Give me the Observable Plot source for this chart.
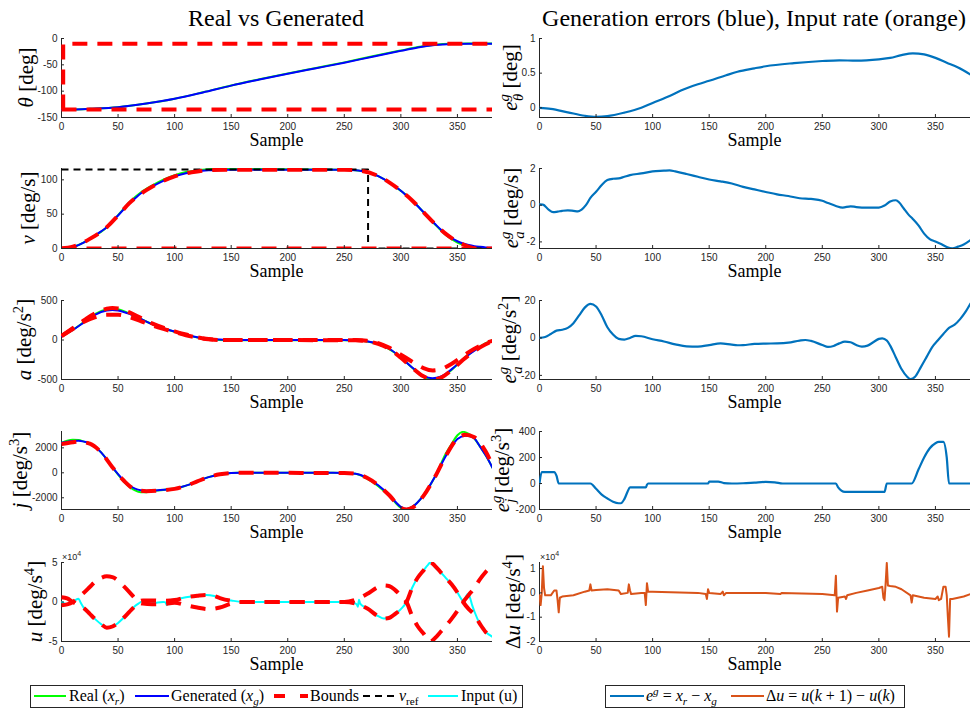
<!DOCTYPE html>
<html>
<head>
<meta charset="utf-8">
<script src="https://cdn.jsdelivr.net/npm/d3@7"></script>
<script src="https://cdn.jsdelivr.net/npm/@observablehq/plot@0.6"></script>
<style>
  body { margin: 0; background: #fff; }
  #fig { position: relative; width: 971px; height: 710px; overflow: hidden; background: #fff; }
  #fig svg { max-width: none; }
</style>
</head>
<body>
<div id="fig"></div>
<script>
// ---------- shared axis settings ----------
const X_MAX = 381;
const X_TICKS = [0, 50, 100, 150, 200, 250, 300, 350];

// ---------- row 1: angle θ [deg] ----------
const thetaReal = [[0,-135],[10,-134.8],[25,-133.6],[50,-130.6],[75,-123.6],[100,-114.4],[125,-102.2],[150,-89.1],[175,-77.5],[200,-66.4],[225,-55.9],[250,-45.3],[275,-33.8],[300,-22.8],[315,-16.3],[330,-11.7],[345,-9.8],[360,-9.4],[381,-9.5]];
const thetaGen  = [[0,-135],[10,-134.8],[25,-133.5],[50,-130.5],[75,-123.5],[100,-114.5],[125,-102.5],[150,-89.5],[175,-78],[200,-67],[225,-56.5],[250,-46],[275,-34.5],[300,-23.5],[315,-17],[330,-12.5],[345,-10.5],[360,-10],[381,-10]];
const thetaUpper = [[1.5,-135],[1.5,-10],[381,-10]];
const thetaLower = [[0,-135],[381,-135]];
const eTheta = [[0,0],[10,-0.015],[25,-0.065],[40,-0.115],[50,-0.13],[60,-0.12],[75,-0.07],[90,0],[100,0.07],[115,0.17],[125,0.25],[140,0.34],[150,0.39],[165,0.47],[175,0.52],[190,0.57],[200,0.6],[225,0.645],[250,0.675],[265,0.685],[280,0.68],[300,0.7],[310,0.72],[320,0.76],[330,0.785],[340,0.77],[350,0.72],[360,0.65],[370,0.58],[381,0.48]];

// ---------- row 2: velocity v [deg/s] ----------
const vReal = [[0,0],[10,2.1],[25,13.7],[40,30.8],[50,48.7],[60,67.4],[70,81.5],[80,91.6],[90,100.2],[100,106.8],[110,111.4],[120,114.1],[130,115.5],[140,116],[150,116],[200,115.3],[250,114.7],[265,113],[280,105.4],[290,95.9],[300,83.9],[310,70.2],[320,52.8],[330,35.3],[340,19.4],[350,8.6],[360,2.7],[370,0.3],[381,0]];
const vGen = [[0,0],[5,0.6],[10,2.4],[15,5],[20,9],[25,14],[30,19.5],[35,25],[40,31],[45,39],[50,48],[55,57],[60,66],[65,73],[70,80],[75,85],[80,90],[90,98.5],[100,105],[110,109.5],[120,112.3],[130,113.8],[140,114.4],[150,114.6],[200,114.6],[250,114.5],[260,114],[265,113],[270,111],[275,108.5],[280,105.5],[285,101],[290,96],[295,90],[300,84],[305,77],[310,70],[315,61.5],[320,53],[325,44],[330,36],[335,28],[340,21],[345,15],[350,10.6],[355,7.3],[360,5],[365,3.4],[370,2.4],[375,1.6],[381,1]];
const vUpper = [[0,0],[10,2.5],[25,14],[40,31],[50,48],[60,66],[75,85],[90,98.5],[100,105],[115,111],[130,114],[150,114.6],[250,114.5],[265,113],[280,105.5],[290,96],[300,84],[310,70],[320,53],[330,36],[340,21],[350,10],[358,4],[365,0]];
const vLower = [[0,0],[381,0]];
const vRef = [[0,115],[271,115],[271,0],[381,0]];
const eV = [[0,0.04],[3,0.03],[8,-0.24],[12,-0.38],[16,-0.35],[20,-0.31],[25,-0.28],[30,-0.31],[34,-0.34],[37,-0.25],[41,0],[45,0.4],[50,0.73],[55,1.1],[60,1.37],[65,1.44],[70,1.46],[75,1.55],[80,1.64],[90,1.73],[100,1.84],[110,1.88],[115,1.9],[120,1.84],[130,1.7],[140,1.55],[150,1.4],[160,1.3],[170,1.18],[180,1.0],[190,0.86],[200,0.72],[210,0.59],[220,0.5],[230,0.38],[240,0.34],[250,0.24],[255,0.12],[262,-0.04],[268,-0.13],[275,-0.06],[280,-0.1],[290,-0.13],[300,-0.13],[305,-0.02],[310,0.2],[315,0.27],[318,0.15],[322,-0.18],[326,-0.5],[330,-0.75],[335,-1.1],[340,-1.55],[345,-1.85],[350,-1.98],[355,-2.12],[360,-2.28],[365,-2.35],[370,-2.26],[375,-2.14],[381,-1.9]];

// ---------- row 3: acceleration a [deg/s²] ----------
const aReal = [[0,50],[10,129],[20,229],[30,330],[40,389],[45,399],[50,390],[60,336],[70,266],[80,203],[90,149],[100,105],[110,66],[120,31],[130,10],[140,0],[150,-4],[250,-4],[260,-9],[270,-19],[280,-55],[290,-118],[300,-221],[310,-351],[320,-470],[328,-498],[335,-482],[345,-376],[355,-242],[365,-130],[375,-40],[381,0]];
const aGen = [[0,50],[10,127],[20,225],[30,322],[40,373],[45,381],[50,373],[60,330],[70,267],[80,203],[90,148],[100,106],[110,68],[120,34],[130,15],[140,5],[150,0],[250,0],[260,-5],[270,-17],[280,-51],[290,-114],[300,-220],[310,-347],[320,-453],[328,-483],[335,-466],[345,-369],[355,-242],[365,-136],[375,-51],[381,-17]];
const aBoundA = [[0,50],[10,150],[20,250],[30,340],[40,395],[45,405],[50,400],[60,350],[70,280],[80,210],[90,155],[100,110],[110,70],[120,35],[130,12],[140,2],[150,0],[260,-3],[270,-15],[280,-50],[290,-115],[300,-225],[310,-350],[320,-460],[328,-500],[335,-480],[345,-380],[355,-250],[365,-140],[375,-55],[381,-15]];
const aBoundB = [[0,50],[10,140],[20,230],[30,290],[40,320],[50,320],[60,290],[70,240],[80,185],[90,140],[100,100],[110,60],[120,30],[130,10],[140,0],[260,0],[270,-10],[280,-40],[290,-100],[300,-185],[310,-275],[320,-355],[328,-385],[335,-370],[345,-300],[355,-200],[365,-110],[375,-40],[381,-10]];
const eA = [[0,0],[5,0.5],[10,2.1],[15,3.9],[20,4.4],[25,5.4],[30,7.9],[35,12],[40,16.2],[45,18.2],[50,16.8],[55,12],[60,5.7],[65,1.8],[70,-0.5],[75,-0.9],[80,0],[85,1.1],[90,0.9],[100,-0.7],[110,-1.9],[120,-3.4],[130,-4.5],[140,-4.6],[150,-3.8],[160,-2.9],[170,-3.6],[175,-3.9],[180,-3.8],[190,-3.2],[200,-3.0],[210,-2.9],[220,-2.5],[230,-1.4],[235,-1.1],[240,-1.6],[250,-3.8],[255,-4.8],[260,-4.3],[265,-2.9],[270,-2.0],[275,-2.3],[280,-3.8],[285,-4.6],[290,-4.1],[295,-2.3],[300,-0.5],[303,-0.2],[307,-1.4],[310,-4.1],[315,-10.4],[320,-16.6],[325,-20.7],[328,-22],[332,-20.7],[337,-15.7],[342,-10.4],[347,-5],[352,-1.4],[357,2.1],[362,5.4],[367,7.1],[372,10.2],[377,14.3],[381,18.4]];

// ---------- row 4: jerk j [deg/s³] ----------
const jReal = [[0,2400],[5,2570],[10,2640],[15,2620],[20,2500],[25,2360],[30,2050],[35,1640],[40,1080],[45,450],[50,-150],[55,-695],[60,-1113],[65,-1410],[70,-1550],[75,-1550],[80,-1450],[90,-1380],[95,-1300],[100,-1270],[110,-1030],[120,-690],[130,-345],[140,-130],[150,-10],[160,15],[200,12],[240,-5],[250,-25],[260,-80],[270,-465],[280,-1065],[290,-1865],[300,-2795],[305,-2930],[310,-2730],[320,-1800],[330,-340],[340,1580],[345,2330],[350,3010],[355,3280],[360,3120],[365,2750],[370,2100],[375,1400],[381,400]];
const jGen = [[0,2400],[5,2480],[10,2550],[15,2570],[20,2500],[25,2360],[30,2050],[35,1640],[40,1080],[45,450],[50,-110],[55,-610],[60,-1000],[65,-1270],[70,-1400],[75,-1430],[80,-1420],[90,-1350],[100,-1270],[110,-1030],[120,-690],[130,-345],[140,-130],[150,-25],[160,0],[200,0],[240,-5],[250,-25],[260,-80],[270,-400],[280,-1000],[290,-1800],[300,-2730],[305,-2890],[310,-2730],[320,-1800],[330,-345],[340,1380],[345,2100],[350,2700],[357,2970],[362,2900],[365,2750],[370,2100],[375,1400],[381,400]];
const jBounds = [[0,2300],[10,2450],[15,2500],[25,2330],[35,1640],[45,450],[55,-620],[65,-1330],[75,-1470],[90,-1400],[100,-1290],[110,-1040],[120,-690],[130,-345],[140,-120],[150,-20],[160,0],[250,-20],[260,-80],[270,-400],[280,-1000],[290,-1820],[300,-2800],[305,-2930],[310,-2800],[320,-1850],[330,-350],[340,1400],[350,2750],[357,3050],[365,2850],[375,1700],[381,600]];
const eJ = [[0,0],[2,88],[13,88],[15,60],[17,0],[45,0],[50,-40],[55,-85],[60,-115],[65,-140],[70,-152],[72,-152],[75,-120],[78,-60],[80,-30],[94,-30],[95,-10],[96,0],[149,0],[150,15],[158,15],[163,3],[170,0],[180,2],[190,7],[200,12],[208,9],[215,0],[262,0],[264,-30],[270,-65],[305,-65],[307,0],[329,0],[335,107],[340,200],[345,271],[350,310],[353,320],[357,320],[360,200],[362,0],[381,0]];

// ---------- row 5: input u [deg/s⁴] and its rate ----------
const uInput = [[0,0],[3,-2000],[6,-3000],[9,-1000],[12,2000],[15,4000],[17,-1000],[20,-8000],[25,-15000],[30,-22000],[35,-28000],[40,-32000],[45,-31000],[50,-26500],[55,-20000],[60,-12500],[65,-5000],[68,-2000],[72,1000],[76,-500],[80,-1500],[85,-500],[90,0],[92,-500],[93,-4000],[94,500],[96,2000],[100,3000],[110,6000],[120,8000],[128,9000],[135,7500],[140,5000],[150,2000],[160,0],[200,0],[250,0],[258,-1000],[261,-3000],[262,-6000],[263,3000],[264,-2000],[270,-8000],[280,-18000],[285,-21000],[290,-20000],[295,-15000],[300,-9000],[305,0],[310,18000],[315,31000],[320,40000],[324,47000],[326,50000],[328,48000],[330,44000],[335,38000],[340,30000],[345,22000],[350,12000],[355,2000],[357,5000],[359,10000],[361,6000],[363,-4000],[365,-12000],[370,-28000],[375,-38000],[381,-44000]];
const uBoundA = [[0,-4000],[5,-3000],[10,0],[15,6000],[20,12000],[25,19000],[30,26000],[35,30500],[40,32500],[45,31500],[50,27000],[55,20000],[60,12500],[65,4500],[68,0],[72,-2000],[80,-3000],[90,-2500],[100,-1000],[110,-4000],[120,-7000],[130,-9000],[140,-7000],[150,-2000],[160,0],[250,0],[260,3000],[270,10000],[280,19000],[285,21000],[290,20000],[295,15000],[300,8000],[305,0],[310,-18000],[315,-31000],[320,-40000],[326,-50000],[330,-46000],[335,-38000],[340,-30000],[345,-21000],[350,-11000],[355,0],[360,9000],[365,18000],[370,29000],[375,38000],[381,47000]];
const uBoundB = [[0,6000],[5,4500],[10,0],[15,-4000],[20,-8000],[25,-15000],[30,-22000],[35,-28000],[40,-32500],[45,-31000],[50,-26500],[55,-20000],[60,-12500],[65,-5000],[68,0],[72,2000],[80,2000],[90,1500],[100,2500],[110,6000],[120,8000],[128,9000],[135,7500],[140,5000],[150,1500],[160,0],[250,0],[260,-2000],[270,-8000],[280,-18000],[285,-21000],[290,-20000],[295,-15000],[300,-9000],[305,0],[310,18000],[315,31000],[320,40000],[326,50000],[330,46000],[335,38000],[340,30000],[345,22000],[350,12000],[355,0],[360,-9000],[365,-16000],[370,-28000],[375,-38000],[381,-44000]];
const duRate = [[0,-1000],[1,-5000],[2,0],[3,11000],[4,2000],[5,-1000],[10,-1000],[13,1000],[15,1000],[16,-3000],[17,-8000],[18,-2000],[20,-1500],[30,-1000],[40,500],[44,1000],[45,3500],[46,1000],[50,1200],[60,1500],[70,1000],[72,-500],[78,0],[79,3500],[80,1000],[81,-500],[90,0],[93,0],[94,-5000],[95,4000],[96,500],[100,500],[140,0],[147,-500],[148,-2500],[149,1500],[150,0],[160,-500],[162,500],[163,-1000],[165,0],[200,0],[213,-500],[214,0],[250,-500],[261,-1000],[262,7000],[263,-7700],[264,-2000],[270,-1500],[271,-2500],[272,-1000],[280,0],[290,1000],[300,2000],[303,2500],[304,-2000],[305,-3000],[306,4000],[307,12300],[308,3000],[310,2800],[315,2500],[320,1500],[328,-1000],[329,-4000],[330,-1000],[340,-2000],[350,-2500],[352,-1500],[353,-3000],[355,-2500],[357,2500],[359,2500],[360,-1000],[361,-10000],[362,-18000],[363,-2500],[365,-2500],[370,-2000],[375,-1500],[381,-500]];

// ---------- figure layout ----------
const fig = document.getElementById("fig");
const AXIS = "#262626";
const COL_LEFT = {L: 61, R: 539};
const FRAME_W = 431;
const ROWS = [{top: 38, bottom: 117}, {top: 168, bottom: 248}, {top: 300, bottom: 379}, {top: 431, bottom: 509}, {top: 562, bottom: 641}];

const C = {real: "#00ff00", gen: "#0000ff", bound: "#ff0000", ref: "#000000", input: "#00ffff", err: "#0072bd", rate: "#d95319"};
const line = (data, o) => Plot.line(data, {x: d => d[0], y: d => d[1], curve: "monotone-x", clip: true, ...o});
const real = d => line(d, {stroke: C.real, strokeWidth: 2});
const gen = d => line(d, {stroke: C.gen, strokeWidth: 2});
const bound = d => line(d, {stroke: C.bound, strokeWidth: 4, strokeDasharray: "15,10", strokeLinecap: "butt", curve: d.length < 5 ? "linear" : "monotone-x"});
const err = d => line(d, {stroke: C.err, strokeWidth: 2.2});
const e4 = d => String(d / 1e4);

function panel(col, row, {domain, ticks, format = String, marks}) {
  const {top, bottom} = ROWS[row];
  const ml = 48, mr = 8, mt = 8, mb = 24;
  const chart = Plot.plot({
    width: FRAME_W + ml + mr,
    height: bottom - top + mt + mb,
    marginLeft: ml, marginRight: mr, marginTop: mt, marginBottom: mb,
    x: {domain: [0, X_MAX]},
    y: {domain},
    style: {background: "transparent", color: AXIS, fontFamily: "'Liberation Sans', Arial, sans-serif", fontSize: "10px", overflow: "visible"},
    marks: [
      Plot.ruleX([0], {stroke: AXIS, strokeWidth: 1}),
      Plot.ruleY([domain[0]], {stroke: AXIS, strokeWidth: 1}),
      ...marks,
      Plot.axisX({ticks: X_TICKS, tickSize: -3, tickPadding: 8, tickFormat: String, label: null}),
      Plot.axisY({ticks, tickSize: -3, tickPadding: 7, tickFormat: format, label: null})
    ]
  });
  chart.style.position = "absolute";
  chart.style.left = (COL_LEFT[col] - ml) + "px";
  chart.style.top = (top - mt) + "px";
  fig.appendChild(chart);
}

// left column: real vs generated
panel("L", 0, {domain: [-150, 0], ticks: [-150, -100, -50, 0],
  marks: [real(thetaReal), gen(thetaGen), bound(thetaUpper), bound(thetaLower)]});
panel("L", 1, {domain: [0, 116.5], ticks: [0, 50, 100],
  marks: [real(vReal), gen(vGen),
    line(vRef, {stroke: C.ref, strokeWidth: 2, strokeDasharray: "7,5", strokeLinecap: "butt", curve: "linear"}),
    bound(vUpper), bound(vLower)]});
panel("L", 2, {domain: [-500, 500], ticks: [-500, 0, 500],
  marks: [real(aReal), gen(aGen), bound(aBoundA), bound(aBoundB)]});
panel("L", 3, {domain: [-2940, 3310], ticks: [-2000, 0, 2000],
  marks: [real(jReal), gen(jGen), bound(jBounds)]});
panel("L", 4, {domain: [-50000, 50000], ticks: [-50000, 0, 50000], format: e4,
  marks: [line(uInput, {stroke: C.input, strokeWidth: 2}), bound(uBoundA), bound(uBoundB)]});

// right column: generation errors and input rate
panel("R", 0, {domain: [-0.14, 1], ticks: [0, 0.5, 1], marks: [err(eTheta)]});
panel("R", 1, {domain: [-2.36, 2], ticks: [-2, 0, 2], marks: [err(eV)]});
panel("R", 2, {domain: [-22.2, 20], ticks: [-20, 0, 20], marks: [err(eA)]});
panel("R", 3, {domain: [-200, 400], ticks: [-200, 0, 200, 400], marks: [err(eJ)]});
panel("R", 4, {domain: [-20000, 12500], ticks: [-20000, -10000, 0, 10000], format: e4,
  marks: [line(duRate, {stroke: C.rate, strokeWidth: 2, curve: "linear"})]});

// ---------- text layer: titles, axis labels, legends ----------
const svg = d3.select(fig).append("svg")
  .attr("width", 971).attr("height", 710)
  .style("position", "absolute").style("left", 0).style("top", 0)
  .style("pointer-events", "none")
  .style("font-family", "'Liberation Serif', 'Times New Roman', serif");

function rich(sel, segs, size) {
  let shift = 0;
  for (const s of segs) {
    const target = s.sup ? -0.4 * size : s.sub ? 0.28 * size : 0;
    const t = sel.append("tspan").text(s.t)
      .attr("font-size", (s.sup || s.sub) ? size * 0.7 : size)
      .attr("font-style", s.it ? "italic" : "normal");
    if (target !== shift) t.attr("dy", target - shift);
    if (s.dx) t.attr("dx", s.dx);
    shift = target;
  }
  return sel;
}
const it = t => ({t, it: true});
const sup = (t, o = {}) => ({t, sup: true, ...o});
const sub = (t, o = {}) => ({t, sub: true, ...o});
const tx = t => ({t});

// titles
svg.append("text").attr("x", 276).attr("y", 26).attr("text-anchor", "middle").attr("font-size", 24).text("Real vs Generated");
svg.append("text").attr("x", 754).attr("y", 26).attr("text-anchor", "middle").attr("font-size", 24).text("Generation errors (blue), Input rate (orange)");

// x labels
for (const r of ROWS) {
  for (const c of ["L", "R"]) {
    svg.append("text").attr("x", COL_LEFT[c] + FRAME_W / 2).attr("y", r.bottom + 29)
      .attr("text-anchor", "middle").attr("font-size", 18).text("Sample");
  }
}

// y labels, each set just outside its tick labels
const yLabelsL = [
  [it("θ"), tx(" [deg]")],
  [it("v"), tx(" [deg/s]")],
  [it("a"), tx(" [deg/s"), sup("2"), tx("]")],
  [it("j"), tx(" [deg/s"), sup("3"), tx("]")],
  [it("u"), tx(" [deg/s"), sup("4"), tx("]")]
];
const yLabelsR = [
  [it("e"), sup("g", {it: true}), sub("θ", {it: true, dx: -7}), tx(" [deg]")],
  [it("e"), sup("g", {it: true}), sub("a", {it: true, dx: -7}), tx(" [deg/s]")],
  [it("e"), sup("g", {it: true}), sub("a", {it: true, dx: -7}), tx(" [deg/s"), sup("2"), tx("]")],
  [it("e"), sup("g", {it: true}), sub("j", {it: true, dx: -7}), tx(" [deg/s"), sup("3"), tx("]")],
  [tx("Δ"), it("u"), tx(" [deg/s"), sup("4"), tx("]")]
];
const yBaseL = [33, 35, 31, 27, 42];
const yBaseR = [517, 518, 516, 509, 520];
ROWS.forEach((r, i) => {
  const cy = (r.top + r.bottom) / 2;
  rich(svg.append("text").attr("text-anchor", "middle").attr("transform", `translate(${yBaseL[i]},${cy}) rotate(-90)`), yLabelsL[i], 21);
  rich(svg.append("text").attr("text-anchor", "middle").attr("transform", `translate(${yBaseR[i]},${cy}) rotate(-90)`), yLabelsR[i], 21);
});

// exponent notes on the last row
for (const x of [62, 540]) {
  const t = svg.append("text").attr("x", x).attr("y", 560)
    .attr("font-family", "'Liberation Sans', Arial, sans-serif").attr("fill", AXIS);
  t.append("tspan").attr("font-size", 9).text("×10");
  t.append("tspan").attr("font-size", 7).attr("dy", -4).text("4");
}

// legends
const legendY = 696;
function legendBox(x, w) {
  svg.append("rect").attr("x", x + 0.5).attr("y", 685.5).attr("width", w).attr("height", 22)
    .attr("fill", "#fff").attr("stroke", AXIS).attr("stroke-width", 1);
}
function swatch(x1, x2, o) {
  svg.append("line").attr("x1", x1).attr("x2", x2).attr("y1", legendY).attr("y2", legendY)
    .attr("stroke", o.stroke).attr("stroke-width", o.w).attr("stroke-dasharray", o.dash || null);
}
function label(x, segs) {
  rich(svg.append("text").attr("x", x).attr("y", 701), segs, 16);
}
legendBox(30, 492);
swatch(34, 66, {stroke: C.real, w: 2}); label(69, [tx("Real ("), it("x"), sub("r", {it: true}), tx(")")]);
swatch(135, 169, {stroke: C.gen, w: 2}); label(171, [tx("Generated ("), it("x"), sub("g", {it: true}), tx(")")]);
swatch(274, 308, {stroke: C.bound, w: 4, dash: "11,15"}); label(310, [tx("Bounds")]);
swatch(363, 397, {stroke: C.ref, w: 2, dash: "7,5"}); label(399, [it("v"), sub("ref")]);
swatch(428, 458, {stroke: C.input, w: 2}); label(461, [tx("Input (u)")]);

legendBox(605, 299);
swatch(610, 644, {stroke: C.err, w: 2.2}); label(646, [it("e"), sup("g", {it: true}), tx(" = "), it("x"), sub("r", {it: true}), tx(" − "), it("x"), sub("g", {it: true})]);
swatch(731, 764, {stroke: C.rate, w: 2.2}); label(766, [tx("Δ"), it("u"), tx(" = "), it("u"), tx("("), it("k"), tx(" + 1) − "), it("u"), tx("("), it("k"), tx(")")]);
</script>
</body>
</html>
